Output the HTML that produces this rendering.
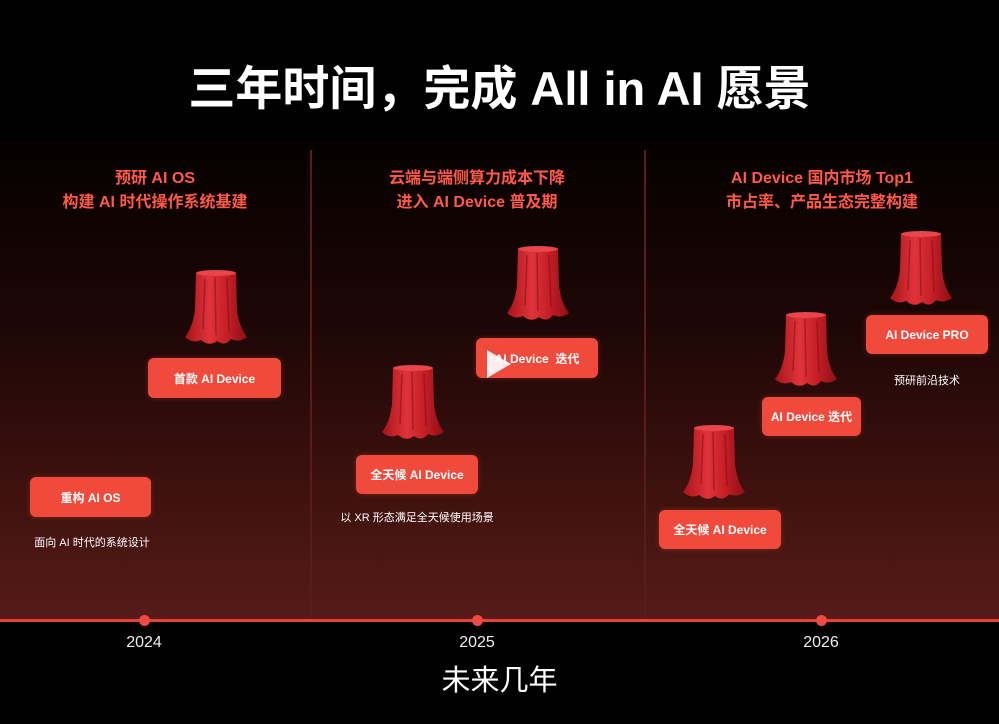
<!DOCTYPE html>
<html><head><meta charset="utf-8"><style>
*{margin:0;padding:0;box-sizing:border-box}
body{width:999px;height:724px;overflow:hidden;background:#000;position:relative;font-family:"Liberation Sans","Noto Sans CJK SC",sans-serif}
.bg{position:absolute;left:0;top:140px;width:999px;height:481px;background:linear-gradient(#050000 0%,#1e0706 40%,#40120f 75%,#561b18 100%)}
.div{position:absolute;top:150px;width:2px;height:470px;background:#5a1c19}
.line{position:absolute;left:0;top:619px;width:999px;height:3px;background:#e8403a}
.dot{position:absolute;top:615px;width:11px;height:11px;border-radius:50%;background:#f04a42}
.yr{position:absolute;top:634px;width:80px;text-align:center;color:#eee;font-size:16px}
.t{position:absolute;color:#fff;text-align:center;white-space:nowrap}
.h{position:absolute;color:#ff5a48;font-weight:bold;font-size:16px;text-align:center;line-height:24px;white-space:nowrap}
.b{position:absolute;background:#f04a3c;border-radius:6px;color:#fff;font-size:12px;font-weight:bold;display:flex;align-items:center;justify-content:center;box-shadow:0 0 6px rgba(255,80,60,.3)}
.c{position:absolute;color:#fff;font-size:11px;text-align:center;white-space:nowrap}
svg.d{position:absolute}
</style></head><body>
<div class="bg"></div>
<div class="div" style="left:310px"></div>
<div class="div" style="left:644px"></div>
<div class="line"></div>
<div class="dot" style="left:139px"></div>
<div class="dot" style="left:472px"></div>
<div class="dot" style="left:816px"></div>
<div class="yr" style="left:104px">2024</div>
<div class="yr" style="left:437px">2025</div>
<div class="yr" style="left:781px">2026</div>
<div class="t" style="left:0;width:999px;top:50px;font-size:47px;font-weight:bold">三年时间，完成 All in AI 愿景</div>
<div class="t" style="left:0;width:999px;top:657px;font-size:29px">未来几年</div>

<div class="h" style="left:55px;width:200px;top:167px">预研 AI OS<br>构建 AI 时代操作系统基建</div>
<div class="h" style="left:357px;width:240px;top:167px">云端与端侧算力成本下降<br>进入 AI Device 普及期</div>
<div class="h" style="left:702px;width:240px;top:167px">AI Device 国内市场 Top1<br>市占率、产品生态完整构建</div>

<svg width="0" height="0" style="position:absolute"><defs>
<linearGradient id="g" x1="0" x2="1"><stop offset="0" stop-color="#a8141a"/><stop offset=".4" stop-color="#e0333a"/><stop offset=".7" stop-color="#c21d25"/><stop offset="1" stop-color="#8c1015"/></linearGradient>
<symbol id="dr" viewBox="0 0 66 78"><path d="M13 4 Q33 0 53 4 L54 40 Q56 58 64 68 Q56 74 48 70 Q42 78 34 72 Q26 78 18 71 Q10 75 2 68 Q10 58 12 40 Z" fill="url(#g)"/><ellipse cx="33" cy="4" rx="20" ry="3" fill="#e8464a"/><path d="M22 10 L20 60 M32 8 L33 66 M44 10 L46 62" stroke="#7a0c10" stroke-width="1.5" opacity=".5" fill="none"/></symbol>
</defs></svg>
<svg class="d" style="left:183px;top:269px" width="66" height="78"><use href="#dr"/></svg>
<svg class="d" style="left:380px;top:364px" width="66" height="78"><use href="#dr"/></svg>
<svg class="d" style="left:505px;top:245px" width="66" height="78"><use href="#dr"/></svg>
<svg class="d" style="left:681px;top:424px" width="66" height="78"><use href="#dr"/></svg>
<svg class="d" style="left:773px;top:311px" width="66" height="78"><use href="#dr"/></svg>
<svg class="d" style="left:888px;top:230px" width="66" height="78"><use href="#dr"/></svg>

<div class="b" style="left:148px;top:358px;width:133px;height:40px">首款 AI Device</div>
<div class="b" style="left:30px;top:477px;width:121px;height:40px">重构 AI OS</div>
<div class="c" style="left:12px;width:160px;top:534px">面向 AI 时代的系统设计</div>
<div class="b" style="left:356px;top:455px;width:122px;height:39px">全天候 AI Device</div>
<div class="c" style="left:317px;width:200px;top:509px">以 XR 形态满足全天候使用场景</div>
<div class="b" style="left:476px;top:338px;width:122px;height:40px">AI Device&nbsp; 迭代</div>
<svg class="d" style="left:484px;top:348px" width="30" height="30"><path d="M3 2 L27 16 L3 30 Z" fill="#fff" opacity=".9"/></svg>
<div class="b" style="left:659px;top:510px;width:122px;height:39px">全天候 AI Device</div>
<div class="b" style="left:762px;top:397px;width:99px;height:39px">AI Device 迭代</div>
<div class="b" style="left:866px;top:315px;width:122px;height:39px">AI Device PRO</div>
<div class="c" style="left:867px;width:120px;top:372px">预研前沿技术</div>
</body></html>
